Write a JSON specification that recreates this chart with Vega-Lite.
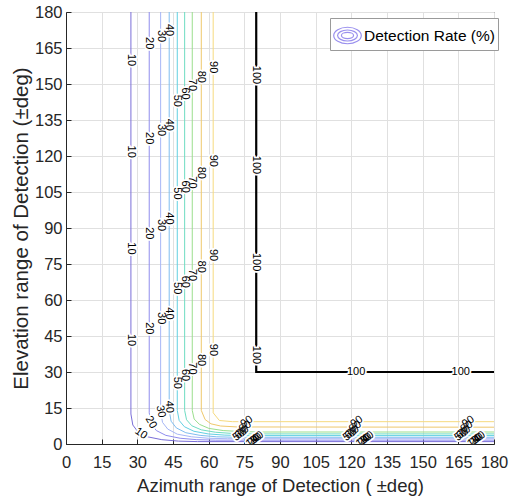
{
  "$schema": "https://vega.github.io/schema/vega-lite/v6.json",
  "autosize": "none",
  "width": 428,
  "height": 432,
  "padding": {"left": 66, "top": 12, "right": 20, "bottom": 58},
  "background": "white",
  "datasets": {
    "contours": [
      {"level": 10, "i": 0, "az": 27.3, "el": 180}, {"level": 10, "i": 1, "az": 27.3, "el": 12.5}, {"level": 10, "i": 2, "az": 28.1, "el": 7.9}, {"level": 10, "i": 3, "az": 30.3, "el": 5.0}, {"level": 10, "i": 4, "az": 34.3, "el": 3.0}, {"level": 10, "i": 5, "az": 40.3, "el": 1.8}, {"level": 10, "i": 6, "az": 47.3, "el": 1.2}, {"level": 10, "i": 7, "az": 55.3, "el": 1.0}, {"level": 10, "i": 8, "az": 180, "el": 1.0},
      {"level": 20, "i": 0, "az": 35.0, "el": 180}, {"level": 20, "i": 1, "az": 35.0, "el": 13}, {"level": 20, "i": 2, "az": 35.8, "el": 8.4}, {"level": 20, "i": 3, "az": 38.0, "el": 5.6}, {"level": 20, "i": 4, "az": 42.0, "el": 3.6}, {"level": 20, "i": 5, "az": 48.0, "el": 2.4}, {"level": 20, "i": 6, "az": 55.0, "el": 1.8}, {"level": 20, "i": 7, "az": 63.0, "el": 1.6}, {"level": 20, "i": 8, "az": 180, "el": 1.6},
      {"level": 30, "i": 0, "az": 39.8, "el": 180}, {"level": 30, "i": 1, "az": 39.8, "el": 13.5}, {"level": 30, "i": 2, "az": 40.6, "el": 9.0}, {"level": 30, "i": 3, "az": 42.8, "el": 6.2}, {"level": 30, "i": 4, "az": 46.8, "el": 4.1}, {"level": 30, "i": 5, "az": 52.8, "el": 3.0}, {"level": 30, "i": 6, "az": 59.8, "el": 2.4}, {"level": 30, "i": 7, "az": 67.8, "el": 2.2}, {"level": 30, "i": 8, "az": 180, "el": 2.2},
      {"level": 40, "i": 0, "az": 43.4, "el": 180}, {"level": 40, "i": 1, "az": 43.4, "el": 14}, {"level": 40, "i": 2, "az": 44.2, "el": 9.5}, {"level": 40, "i": 3, "az": 46.4, "el": 6.7}, {"level": 40, "i": 4, "az": 50.4, "el": 4.7}, {"level": 40, "i": 5, "az": 56.4, "el": 3.6}, {"level": 40, "i": 6, "az": 63.4, "el": 3.0}, {"level": 40, "i": 7, "az": 71.4, "el": 2.8}, {"level": 40, "i": 8, "az": 180, "el": 2.8},
      {"level": 50, "i": 0, "az": 46.8, "el": 180}, {"level": 50, "i": 1, "az": 46.8, "el": 14}, {"level": 50, "i": 2, "az": 47.6, "el": 9.8}, {"level": 50, "i": 3, "az": 49.8, "el": 7.2}, {"level": 50, "i": 4, "az": 53.8, "el": 5.3}, {"level": 50, "i": 5, "az": 59.8, "el": 4.2}, {"level": 50, "i": 6, "az": 66.8, "el": 3.7}, {"level": 50, "i": 7, "az": 74.8, "el": 3.5}, {"level": 50, "i": 8, "az": 180, "el": 3.5},
      {"level": 60, "i": 0, "az": 49.9, "el": 180}, {"level": 60, "i": 1, "az": 49.9, "el": 14}, {"level": 60, "i": 2, "az": 50.7, "el": 10.1}, {"level": 60, "i": 3, "az": 52.9, "el": 7.6}, {"level": 60, "i": 4, "az": 56.9, "el": 5.9}, {"level": 60, "i": 5, "az": 62.9, "el": 4.9}, {"level": 60, "i": 6, "az": 69.9, "el": 4.4}, {"level": 60, "i": 7, "az": 77.9, "el": 4.2}, {"level": 60, "i": 8, "az": 180, "el": 4.2},
      {"level": 70, "i": 0, "az": 53.1, "el": 180}, {"level": 70, "i": 1, "az": 53.1, "el": 14}, {"level": 70, "i": 2, "az": 53.9, "el": 10.4}, {"level": 70, "i": 3, "az": 56.1, "el": 8.2}, {"level": 70, "i": 4, "az": 60.1, "el": 6.5}, {"level": 70, "i": 5, "az": 66.1, "el": 5.6}, {"level": 70, "i": 6, "az": 73.1, "el": 5.2}, {"level": 70, "i": 7, "az": 81.1, "el": 5.0}, {"level": 70, "i": 8, "az": 180, "el": 5.0},
      {"level": 80, "i": 0, "az": 56.9, "el": 180}, {"level": 80, "i": 1, "az": 56.9, "el": 14}, {"level": 80, "i": 2, "az": 58.5, "el": 10.2}, {"level": 80, "i": 3, "az": 61.0, "el": 8.4}, {"level": 80, "i": 4, "az": 65.0, "el": 7.5}, {"level": 80, "i": 5, "az": 72.0, "el": 7.1}, {"level": 80, "i": 6, "az": 180, "el": 7.0},
      {"level": 90, "i": 0, "az": 61.9, "el": 180}, {"level": 90, "i": 1, "az": 61.9, "el": 13}, {"level": 90, "i": 2, "az": 64.5, "el": 9.8}, {"level": 90, "i": 3, "az": 70.0, "el": 9.3}, {"level": 90, "i": 4, "az": 180, "el": 9.3},
      {"level": 100, "i": 0, "az": 80, "el": 180}, {"level": 100, "i": 1, "az": 80, "el": 30}, {"level": 100, "i": 2, "az": 180, "el": 30}
    ],
    "labels": [
      {"level": 10, "az": 27.3, "el": 160, "ang": 90}, {"level": 10, "az": 27.3, "el": 121.8, "ang": 90}, {"level": 10, "az": 27.3, "el": 81.5, "ang": 90}, {"level": 10, "az": 27.3, "el": 43.3, "ang": 90}, {"level": 10, "az": 31.5, "el": 4.4, "ang": 35},
      {"level": 20, "az": 35.0, "el": 167, "ang": 90}, {"level": 20, "az": 35.0, "el": 127.4, "ang": 90}, {"level": 20, "az": 35.0, "el": 87.8, "ang": 90}, {"level": 20, "az": 35.0, "el": 48.2, "ang": 90}, {"level": 20, "az": 35.7, "el": 9.0, "ang": 60},
      {"level": 30, "az": 39.8, "el": 170, "ang": 90}, {"level": 30, "az": 39.8, "el": 130.8, "ang": 90}, {"level": 30, "az": 39.8, "el": 91.2, "ang": 90}, {"level": 30, "az": 39.8, "el": 52.4, "ang": 90}, {"level": 30, "az": 39.8, "el": 13.5, "ang": 80},
      {"level": 40, "az": 43.4, "el": 172.5, "ang": 90}, {"level": 40, "az": 43.4, "el": 133, "ang": 90}, {"level": 40, "az": 43.4, "el": 94, "ang": 90}, {"level": 40, "az": 43.4, "el": 54.4, "ang": 90}, {"level": 40, "az": 43.4, "el": 15.5, "ang": 88},
      {"level": 50, "az": 46.8, "el": 143, "ang": 90}, {"level": 50, "az": 46.8, "el": 104.4, "ang": 90}, {"level": 50, "az": 46.8, "el": 64.9, "ang": 90}, {"level": 50, "az": 46.8, "el": 25.5, "ang": 90},
      {"level": 60, "az": 49.9, "el": 146, "ang": 90}, {"level": 60, "az": 49.9, "el": 107.2, "ang": 90}, {"level": 60, "az": 49.9, "el": 67.6, "ang": 90}, {"level": 60, "az": 49.9, "el": 28.75, "ang": 90},
      {"level": 70, "az": 53.1, "el": 149.6, "ang": 90}, {"level": 70, "az": 53.1, "el": 109, "ang": 90}, {"level": 70, "az": 53.1, "el": 70.4, "ang": 90}, {"level": 70, "az": 53.1, "el": 31.5, "ang": 90},
      {"level": 80, "az": 56.9, "el": 153, "ang": 90}, {"level": 80, "az": 56.9, "el": 113, "ang": 90}, {"level": 80, "az": 56.9, "el": 73.9, "ang": 90}, {"level": 80, "az": 56.9, "el": 35, "ang": 90},
      {"level": 90, "az": 61.9, "el": 157, "ang": 90}, {"level": 90, "az": 61.9, "el": 118, "ang": 90}, {"level": 90, "az": 61.9, "el": 78.75, "ang": 90}, {"level": 90, "az": 61.9, "el": 39.2, "ang": 90},
      {"level": 100, "az": 80, "el": 153.75, "ang": 90}, {"level": 100, "az": 80, "el": 116.25, "ang": 90}, {"level": 100, "az": 80, "el": 75.8, "ang": 90}, {"level": 100, "az": 80, "el": 37.1, "ang": 90},
      {"level": 100, "az": 122, "el": 30, "ang": 0}, {"level": 100, "az": 166, "el": 30, "ang": 0},
      {"level": 90, "az": 76.0, "el": 9.3, "ang": -35}, {"level": 80, "az": 75.4, "el": 7.2, "ang": -35}, {"level": 70, "az": 74.4, "el": 5.2, "ang": -35}, {"level": 60, "az": 73.6, "el": 4.4, "ang": -35}, {"level": 50, "az": 72.8, "el": 3.6, "ang": -35},
      {"level": 40, "az": 80.6, "el": 2.8, "ang": -35}, {"level": 30, "az": 79.8, "el": 2.2, "ang": -35}, {"level": 20, "az": 79.0, "el": 1.6, "ang": -35}, {"level": 10, "az": 78.2, "el": 1.0, "ang": -35},
      {"level": 90, "az": 122.3, "el": 9.3, "ang": -35}, {"level": 80, "az": 121.7, "el": 7.2, "ang": -35}, {"level": 70, "az": 120.7, "el": 5.2, "ang": -35}, {"level": 60, "az": 119.9, "el": 4.4, "ang": -35}, {"level": 50, "az": 119.1, "el": 3.6, "ang": -35},
      {"level": 40, "az": 126.9, "el": 2.8, "ang": -35}, {"level": 30, "az": 126.1, "el": 2.2, "ang": -35}, {"level": 20, "az": 125.3, "el": 1.6, "ang": -35}, {"level": 10, "az": 124.5, "el": 1.0, "ang": -35},
      {"level": 90, "az": 169.2, "el": 9.3, "ang": -35}, {"level": 80, "az": 168.6, "el": 7.2, "ang": -35}, {"level": 70, "az": 167.6, "el": 5.2, "ang": -35}, {"level": 60, "az": 166.8, "el": 4.4, "ang": -35}, {"level": 50, "az": 166.0, "el": 3.6, "ang": -35},
      {"level": 40, "az": 173.8, "el": 2.8, "ang": -35}, {"level": 30, "az": 173.0, "el": 2.2, "ang": -35}, {"level": 20, "az": 172.2, "el": 1.6, "ang": -35}, {"level": 10, "az": 171.4, "el": 1.0, "ang": -35}
    ]
  },
  "encoding": {
    "x": {
      "field": "az", "type": "quantitative",
      "scale": {"domain": [0, 180], "nice": false, "zero": false},
      "axis": {"title": "Azimuth range of Detection ( ±deg)", "values": [0, 15, 30, 45, 60, 75, 90, 105, 120, 135, 150, 165, 180], "labelPadding": 15, "titlePadding": 6, "titleFontSize": 18.5}
    },
    "y": {
      "field": "el", "type": "quantitative",
      "scale": {"domain": [0, 180], "nice": false, "zero": false},
      "axis": {"title": "Elevation range of Detection (±deg)", "values": [0, 15, 30, 45, 60, 75, 90, 105, 120, 135, 150, 165, 180], "labelPadding": 9, "titlePadding": 3, "titleFontSize": 20.5}
    }
  },
  "layer": [
    {
      "data": {"name": "contours"},
      "mark": {"type": "line", "clip": true, "interpolate": "linear"},
      "encoding": {
        "color": {
          "field": "level", "type": "ordinal",
          "scale": {"domain": [10, 20, 30, 40, 50, 60, 70, 80, 90, 100],
                    "range": ["#7a6ed8", "#8f8cee", "#a6b6f6", "#7fbdf0", "#62d0e2", "#6edcc2", "#9ade8c", "#efc86c", "#f6da7e", "#000000"]},
          "legend": null
        },
        "order": {"field": "i", "type": "quantitative"},
        "strokeWidth": {"condition": {"test": "datum.level === 100", "value": 2.2}, "value": 1}
      }
    },
    {
      "data": {"values": [{"az": 90, "el": 90}]},
      "mark": {"type": "point", "opacity": 0, "filled": false, "color": "#9a90ee"},
      "encoding": {
        "shape": {
          "datum": "Detection Rate (%)",
          "scale": {"range": ["M-1,0A1,0.6,0,1,0,1,0A1,0.6,0,1,0,-1,0Z M-0.72,0A0.72,0.4,0,1,0,0.72,0A0.72,0.4,0,1,0,-0.72,0Z M-0.44,0A0.44,0.22,0,1,0,0.44,0A0.44,0.22,0,1,0,-0.44,0Z"]},
          "legend": {
            "title": null, "orient": "none", "legendX": 264, "legendY": 6,
            "fillColor": "white", "strokeColor": "#9a9a9a", "padding": 3,
            "labelFontSize": 15.5, "labelColor": "#000000", "labelOffset": 2,
            "symbolSize": 760, "symbolStrokeWidth": 1.2, "symbolStrokeColor": "#9a90ee", "symbolFillColor": "transparent"
          }
        }
      }
    },
    {
      "data": {"name": "labels"},
      "mark": {"type": "text", "fontSize": 11, "color": "white", "stroke": "white", "strokeWidth": 3.5, "strokeJoin": "round", "align": "center", "baseline": "middle", "clip": true},
      "encoding": {
        "text": {"field": "level", "type": "nominal"},
        "angle": {"field": "ang", "type": "quantitative", "scale": null}
      }
    },
    {
      "data": {"name": "labels"},
      "mark": {"type": "text", "fontSize": 11, "color": "#000000", "align": "center", "baseline": "middle", "clip": true},
      "encoding": {
        "text": {"field": "level", "type": "nominal"},
        "angle": {"field": "ang", "type": "quantitative", "scale": null}
      }
    }
  ],
  "config": {
    "font": "Liberation Sans",
    "view": {"stroke": "#262626", "strokeWidth": 1},
    "axis": {
      "grid": true, "gridColor": "#e0e0e0", "gridWidth": 1,
      "domainColor": "#262626", "tickColor": "#262626", "tickSize": -5,
      "labelOverlap": false, "labelFlush": false,
      "labelFontSize": 16.5, "labelColor": "#262626", "labelFont": "Liberation Sans",
      "titleFontSize": 18.5, "titleColor": "#262626", "titleFontWeight": "normal", "titleFont": "Liberation Sans"
    }
  }
}
